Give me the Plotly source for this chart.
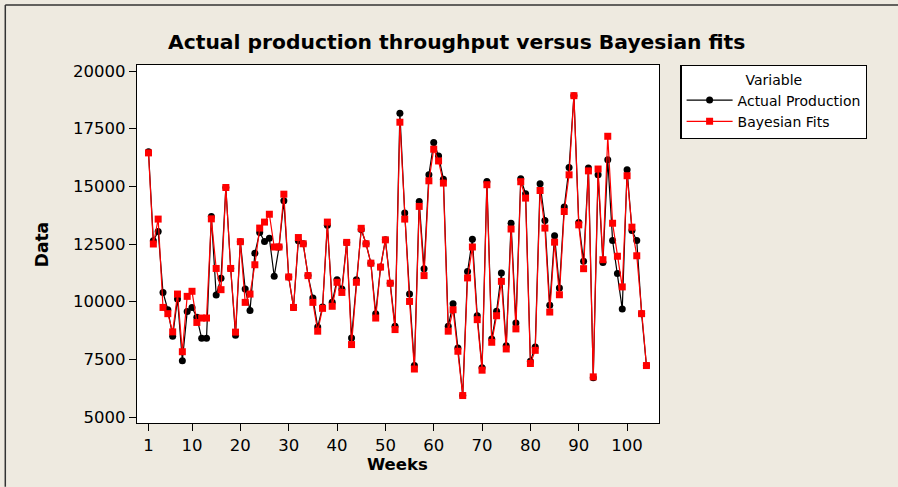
import plotly.graph_objects as go

# Weekly production data
weeks = list(range(1, 105))

actual_production = [
    16500, 12640, 13040, 10400, 9650, 8500, 10120, 7440, 9570, 9750,
    9320, 8410, 8410, 13690, 10290, 11010, 14950, 11440, 8540, 12600,
    10550, 9620, 12100, 13000, 12610, 12750, 11100, 12370, 14370, 11070,
    9750, 12640, 12510, 11130, 10160, 8900, 9770, 13310, 9970, 10950,
    10550, 12570, 8430, 10950, 13130, 12510, 11670, 9480, 11500, 12680,
    10800, 8930, 18170, 13840, 10330, 7230, 14340, 11430, 15500, 16900,
    16320, 15310, 8930, 9910, 7990, 5930, 11310, 12710, 9390, 7130,
    15210, 8380, 9580, 11240, 8090, 13400, 9080, 15330, 14680, 7420,
    8040, 15110, 13520, 9840, 12860, 10590, 14100, 15820, 18930, 13430,
    11750, 15790, 6700, 15500, 11700, 16150, 12650, 11220, 9680, 15720,
    13090, 12650, 9480, 7230,
]

bayesian_fits = [
    16450, 12500, 13580, 9750, 9480, 8690, 10330, 7830, 10230, 10450,
    9100, 9290, 9290, 13590, 11440, 10520, 14950, 11440, 8680, 12600,
    9970, 10330, 11600, 13190, 13450, 13790, 12370, 12370, 14660, 11070,
    9750, 12780, 12510, 11130, 9970, 8720, 9710, 13450, 9800, 10840,
    10400, 12570, 8140, 10840, 13180, 12510, 11670, 9290, 11500, 12680,
    10800, 8790, 17780, 13580, 10010, 7080, 14130, 11130, 15240, 16610,
    16100, 15140, 8720, 9650, 7850, 5930, 11030, 12370, 9220, 7030,
    15070, 8240, 9390, 10880, 7950, 13150, 8820, 15200, 14490, 7320,
    7890, 14820, 13190, 9550, 12580, 10300, 13910, 15500, 18930, 13330,
    11430, 15670, 6740, 15750, 11820, 17170, 13400, 11970, 10640, 15460,
    13230, 11990, 9480, 7230,
]

x_ticks = [1, 10, 20, 30, 40, 50, 60, 70, 80, 90, 100]
y_ticks = [5000, 7500, 10000, 12500, 15000, 17500, 20000]

FONT = "DejaVu Sans"
BG = "#EEEAE0"

fig = go.Figure()
fig.add_trace(go.Scatter(
    x=weeks, y=actual_production, name="Actual Production",
    mode="lines+markers",
    line=dict(color="black", width=1.2),
    marker=dict(symbol="circle", size=7, color="black"),
))
fig.add_trace(go.Scatter(
    x=weeks, y=bayesian_fits, name="Bayesian Fits",
    mode="lines+markers",
    line=dict(color="#FF0000", width=1.2),
    marker=dict(symbol="square", size=7, color="#FF0000"),
))

axis_common = dict(
    showgrid=False, zeroline=False, showline=True, linecolor="black",
    linewidth=1.3, mirror=True, ticks="outside", ticklen=7,
    tickcolor="black", tickwidth=1.2,
    tickfont=dict(family=FONT, size=16.5, color="black"),
)

fig.update_xaxes(range=[-1.38, 106.6], tickmode="array", tickvals=x_ticks,
                 **axis_common)
fig.update_yaxes(range=[4740, 20260], tickmode="array", tickvals=y_ticks,
                 tickformat="d", **axis_common)

# Title and axis titles
fig.add_annotation(text="<b>Actual production throughput versus Bayesian fits</b>",
                   xref="paper", yref="paper",
                   x=(456 - 136.7) / 522, y=(423.3 - 42) / 358.3,
                   xanchor="center", yanchor="middle", showarrow=False,
                   font=dict(family=FONT, size=20.3, color="black"))
fig.add_annotation(text="<b>Weeks</b>", xref="paper", yref="paper",
                   x=(397 - 136.7) / 522, y=(423.3 - 465) / 358.3,
                   xanchor="center", yanchor="middle", showarrow=False,
                   font=dict(family=FONT, size=16.5, color="black"))
fig.add_annotation(text="<b>Data</b>", xref="paper", yref="paper",
                   x=(42 - 136.7) / 522, y=(423.3 - 245) / 358.3,
                   xanchor="center", yanchor="middle", showarrow=False,
                   textangle=-90,
                   font=dict(family=FONT, size=17, color="black"))

# Outer frame edges along the top and left of the figure
top_y = (423.3 - 5) / 358.3
left_x = (5 - 136.7) / 522
fig.add_shape(type="line", xref="paper", yref="paper",
              x0=left_x, y0=top_y, x1=(898 - 136.7) / 522, y1=top_y,
              line=dict(color="#333333", width=1.5))
fig.add_shape(type="line", xref="paper", yref="paper",
              x0=left_x, y0=top_y, x1=left_x, y1=(423.3 - 487) / 358.3,
              line=dict(color="#333333", width=1.5))

fig.update_layout(
    width=898, height=487,
    margin=dict(l=137, r=239, t=65, b=64),
    paper_bgcolor=BG, plot_bgcolor="white",
    showlegend=True,
    legend=dict(
        x=(680 - 136.7) / 522, y=1.0, xanchor="left", yanchor="top",
        bgcolor="white", bordercolor="black", borderwidth=1.3,
        font=dict(family=FONT, size=14, color="black"),
        title=dict(text="Variable", side="top center",
                   font=dict(family=FONT, size=14, color="black")),
        itemwidth=46, tracegroupgap=0,
    ),
)

fig.write_html("out.html")
